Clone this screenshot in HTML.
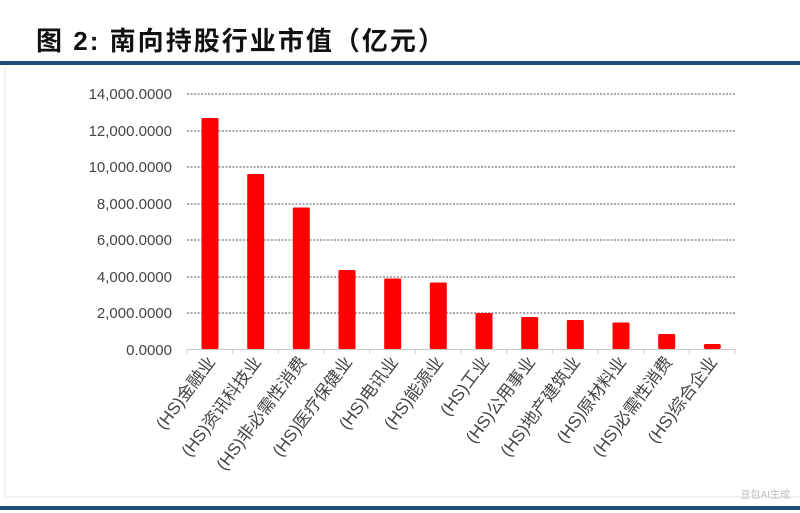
<!DOCTYPE html>
<html><head><meta charset="utf-8"><style>
body{margin:0;background:#fff;}
svg{display:block;}
</style></head><body>
<svg width="800" height="513" xmlns="http://www.w3.org/2000/svg" font-family="Liberation Sans, Noto Sans CJK SC, sans-serif">
<rect width="800" height="513" fill="#fff"/>
<text x="36" y="50" font-size="26" font-weight="bold" fill="#111" letter-spacing="2" font-family="Liberation Sans, Noto Sans CJK SC, sans-serif" textLength="410" lengthAdjust="spacingAndGlyphs">图 2: 南向持股行业市值（亿元）</text>
<rect x="0" y="61" width="800" height="4" fill="#1f4e79"/>
<line x1="5" y1="68" x2="5" y2="497" stroke="#e4e4e4" stroke-width="1"/>
<line x1="5" y1="497" x2="800" y2="497" stroke="#e4e4e4" stroke-width="1"/>
<rect x="0" y="506" width="800" height="4" fill="#1f4e79"/>
<g stroke="#555" stroke-width="1" stroke-dasharray="2,1.5">
<line x1="187" y1="94" x2="735" y2="94"/>
<line x1="187" y1="131" x2="735" y2="131"/>
<line x1="187" y1="167" x2="735" y2="167"/>
<line x1="187" y1="204" x2="735" y2="204"/>
<line x1="187" y1="240" x2="735" y2="240"/>
<line x1="187" y1="277" x2="735" y2="277"/>
<line x1="187" y1="313" x2="735" y2="313"/>
</g>
<g font-size="15" fill="#444" text-anchor="end">
<text x="172" y="99">14,000.0000</text>
<text x="172" y="136">12,000.0000</text>
<text x="172" y="172">10,000.0000</text>
<text x="172" y="209">8,000.0000</text>
<text x="172" y="245">6,000.0000</text>
<text x="172" y="282">4,000.0000</text>
<text x="172" y="318">2,000.0000</text>
<text x="172" y="355">0.0000</text>
</g>
<g fill="#ff0000">
<rect x="201.5" y="118" width="17" height="231" rx="1"/>
<rect x="247.2" y="174" width="17" height="175" rx="1"/>
<rect x="292.8" y="207.5" width="17" height="141.5" rx="1"/>
<rect x="338.5" y="270" width="17" height="79" rx="1"/>
<rect x="384.2" y="278.5" width="17" height="70.5" rx="1"/>
<rect x="429.8" y="282.5" width="17" height="66.5" rx="1"/>
<rect x="475.5" y="313" width="17" height="36" rx="1"/>
<rect x="521.2" y="317" width="17" height="32" rx="1"/>
<rect x="566.8" y="320" width="17" height="29" rx="1"/>
<rect x="612.5" y="322.5" width="17" height="26.5" rx="1"/>
<rect x="658.2" y="334" width="17" height="15" rx="1"/>
<rect x="703.8" y="344" width="17" height="5" rx="2"/>
</g>
<g stroke="#c8c8c8" stroke-width="1">
<line x1="187" y1="349.5" x2="735" y2="349.5"/>
<line x1="187" y1="349" x2="187" y2="354"/>
<line x1="232.7" y1="349" x2="232.7" y2="354"/>
<line x1="278.3" y1="349" x2="278.3" y2="354"/>
<line x1="324" y1="349" x2="324" y2="354"/>
<line x1="369.7" y1="349" x2="369.7" y2="354"/>
<line x1="415.3" y1="349" x2="415.3" y2="354"/>
<line x1="461" y1="349" x2="461" y2="354"/>
<line x1="506.7" y1="349" x2="506.7" y2="354"/>
<line x1="552.3" y1="349" x2="552.3" y2="354"/>
<line x1="598" y1="349" x2="598" y2="354"/>
<line x1="643.7" y1="349" x2="643.7" y2="354"/>
<line x1="689.3" y1="349" x2="689.3" y2="354"/>
<line x1="735" y1="349" x2="735" y2="354"/>
</g>
<g font-size="17" fill="#444" text-anchor="end">
<text transform="translate(216,362) rotate(-53)">(HS)金融业</text>
<text transform="translate(262,362) rotate(-53)">(HS)资讯科技业</text>
<text transform="translate(307,362) rotate(-53)">(HS)非必需性消费</text>
<text transform="translate(353,362) rotate(-53)">(HS)医疗保健业</text>
<text transform="translate(399,362) rotate(-53)">(HS)电讯业</text>
<text transform="translate(444,362) rotate(-53)">(HS)能源业</text>
<text transform="translate(490,362) rotate(-53)">(HS)工业</text>
<text transform="translate(536,362) rotate(-53)">(HS)公用事业</text>
<text transform="translate(581,362) rotate(-53)">(HS)地产建筑业</text>
<text transform="translate(627,362) rotate(-53)">(HS)原材料业</text>
<text transform="translate(673,362) rotate(-53)">(HS)必需性消费</text>
<text transform="translate(718,362) rotate(-53)">(HS)综合企业</text>
</g>
<text x="790" y="498" font-size="10" fill="#bbb" text-anchor="end">豆包AI生成</text>
</svg>
</body></html>
